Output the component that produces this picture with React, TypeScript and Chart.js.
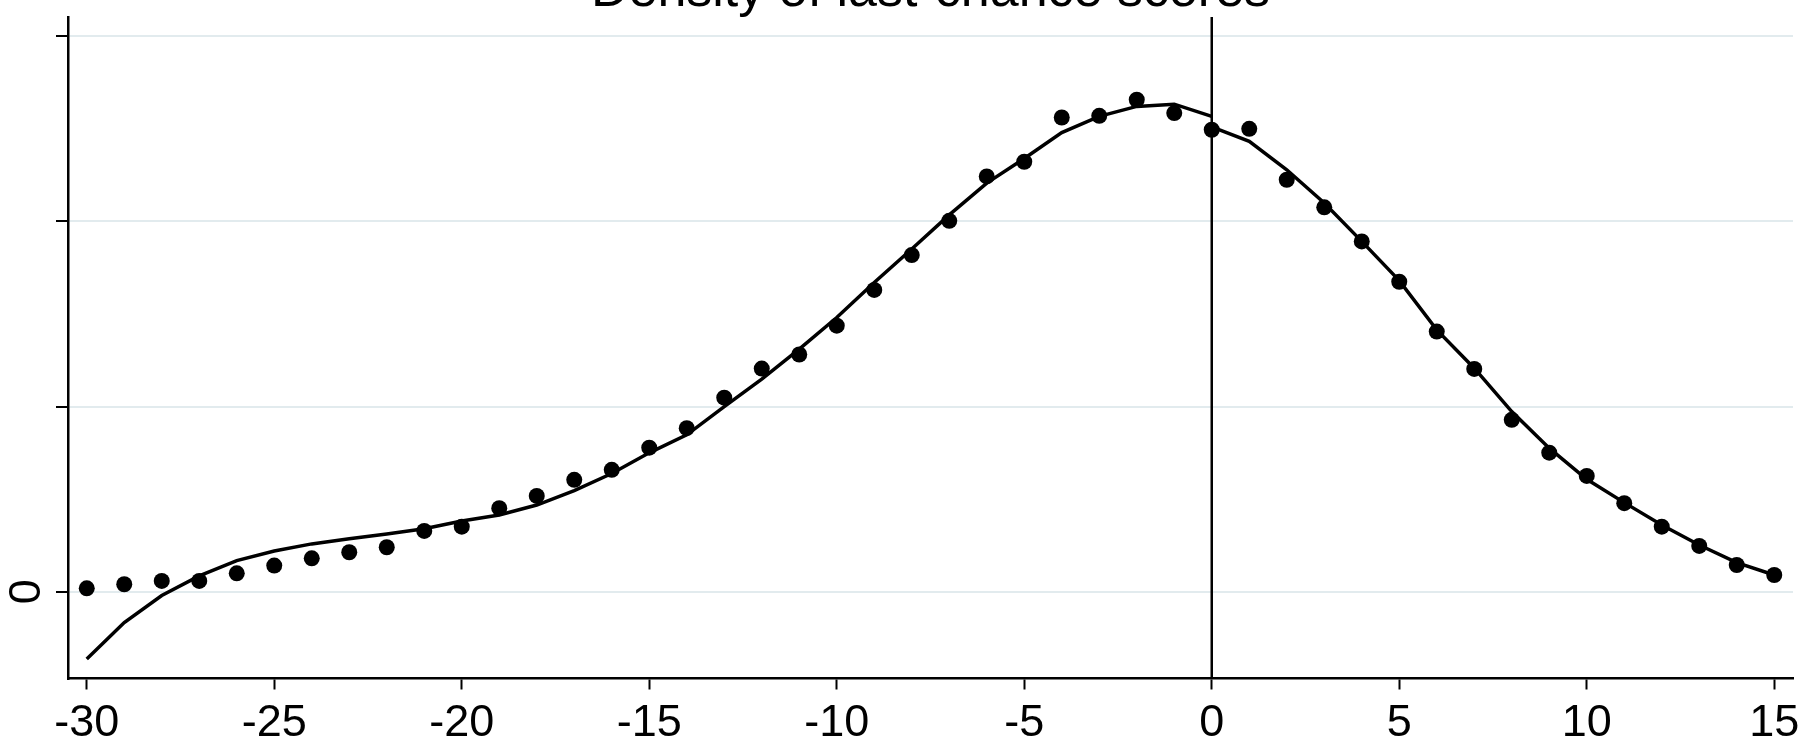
import { useEffect, useRef } from 'react';
import { Chart, registerables } from 'chart.js';

Chart.register(...registerables);

const TITLE = 'Density of last-chance scores';

const SCORE = [
  -30, -29, -28, -27, -26, -25, -24, -23, -22, -21,
  -20, -19, -18, -17, -16, -15, -14, -13, -12, -11,
  -10, -9, -8, -7, -6, -5, -4, -3, -2, -1,
  0, 1, 2, 3, 4, 5, 6, 7, 8, 9,
  10, 11, 12, 13, 14, 15,
];

const DENSITY = [
  0.018, 0.040, 0.058, 0.058, 0.099, 0.141, 0.180, 0.213, 0.240, 0.328,
  0.351, 0.451, 0.517, 0.604, 0.658, 0.778, 0.883, 1.048, 1.205, 1.281,
  1.437, 1.630, 1.818, 2.003, 2.243, 2.322, 2.561, 2.570, 2.657, 2.585,
  2.495, 2.500, 2.225, 2.076, 1.892, 1.674, 1.405, 1.203, 0.928, 0.751,
  0.625, 0.478, 0.351, 0.247, 0.144, 0.090,
];

const FIT_LEFT_X = [
  -30, -29, -28, -27, -26, -25, -24, -23, -22, -21,
  -20, -19, -18, -17, -16, -15, -14, -13, -12, -11,
  -10, -9, -8, -7, -6, -5, -4, -3, -2, -1, 0,
];
const FIT_LEFT = [
  -0.364, -0.167, -0.021, 0.085, 0.168, 0.220, 0.258, 0.286, 0.312, 0.340,
  0.382, 0.414, 0.468, 0.546, 0.638, 0.750, 0.847, 1.000, 1.148, 1.310,
  1.481, 1.670, 1.851, 2.035, 2.207, 2.340, 2.480, 2.567, 2.621, 2.633, 2.567,
];

const FIT_RIGHT_X = [0, 1, 2, 3, 4, 5, 6, 7, 8, 9, 10, 11, 12, 13, 14, 15];
const FIT_RIGHT = [
  2.511, 2.432, 2.279, 2.099, 1.892, 1.680, 1.414, 1.207, 0.973, 0.775,
  0.607, 0.481, 0.360, 0.252, 0.157, 0.090,
];

const CUTOFF = 0;
const X_TICKS = [-30, -25, -20, -15, -10, -5, 0, 5, 10, 15];
const Y_TICKS = [0, 1, 2, 3];
const Y_TICK_LABELS = ['0', '', '', ''];
const X_MIN = -30.5;
const X_MAX = 15.5;
const Y_MIN = -0.469;
const Y_MAX = 3.104;

const FONT = "'Liberation Sans', Arial, sans-serif";

export default function App() {
  const canvasRef = useRef<HTMLCanvasElement | null>(null);

  useEffect(() => {
    document.body.style.margin = '0';
    const canvas = canvasRef.current;
    if (!canvas) return;

    const zip = (xs: number[], ys: number[]) => xs.map((x, i) => ({ x, y: ys[i] }));

    const chart = new Chart(canvas, {
      type: 'line',
      data: {
        datasets: [
          {
            type: 'scatter',
            data: zip(SCORE, DENSITY),
            pointRadius: 8,
            pointBackgroundColor: '#000',
            pointBorderWidth: 0,
            showLine: false,
          } as any,
          {
            data: zip(FIT_LEFT_X, FIT_LEFT),
            borderColor: '#000',
            borderWidth: 3.5,
            pointRadius: 0,
            tension: 0,
          },
          {
            data: zip(FIT_RIGHT_X, FIT_RIGHT),
            borderColor: '#000',
            borderWidth: 3.5,
            pointRadius: 0,
            tension: 0,
          },
          {
            data: [
              { x: CUTOFF, y: Y_MIN },
              { x: CUTOFF, y: Y_MAX },
            ],
            borderColor: '#000',
            borderWidth: 2.5,
            pointRadius: 0,
          },
        ],
      },
      options: {
        animation: false,
        responsive: true,
        maintainAspectRatio: false,
        layout: { padding: { left: 0, right: 13, top: 0, bottom: 0 } },
        plugins: {
          legend: { display: false },
          tooltip: { enabled: false },
          title: {
            display: true,
            text: TITLE,
            fullSize: false,
            align: 'center',
            color: '#000',
            font: { family: FONT, size: 52, weight: 'normal', lineHeight: 1.2 },
            padding: { top: -40, bottom: -5.4 },
          },
        },
        scales: {
          x: {
            type: 'linear',
            min: X_MIN,
            max: X_MAX,
            afterBuildTicks: (axis: any) => {
              axis.ticks = X_TICKS.map((v) => ({ value: v }));
            },
            afterFit: (scale: any) => {
              scale.height = 63.5;
              scale.paddingLeft = 0;
              scale.paddingRight = 0;
              scale.paddingTop = 0;
              scale.paddingBottom = 0;
            },
            border: { display: true, color: '#000', width: 2.5 },
            grid: {
              drawOnChartArea: false,
              drawTicks: true,
              tickLength: 11,
              tickColor: '#000',
              tickWidth: 2,
            },
            ticks: {
              autoSkip: false,
              maxRotation: 0,
              minRotation: 0,
              padding: 7,
              color: '#000',
              font: { family: FONT, size: 45, lineHeight: 1.2 },
              callback: (v: any) => String(v),
            },
          },
          y: {
            type: 'linear',
            min: Y_MIN,
            max: Y_MAX,
            afterBuildTicks: (axis: any) => {
              axis.ticks = Y_TICKS.map((v) => ({ value: v }));
            },
            afterFit: (scale: any) => {
              scale.width = 68;
              scale.paddingLeft = 0;
              scale.paddingRight = 0;
              scale.paddingTop = 0;
              scale.paddingBottom = 0;
            },
            border: { display: true, color: '#000', width: 2.5 },
            grid: {
              drawOnChartArea: true,
              color: '#e2ebee',
              lineWidth: 2,
              drawTicks: true,
              tickLength: 12,
              tickColor: '#000',
              tickWidth: 2,
            },
            ticks: {
              autoSkip: false,
              minRotation: 90,
              maxRotation: 90,
              crossAlign: 'center',
              padding: 16,
              color: '#000',
              font: { family: FONT, size: 45, lineHeight: 1.2 },
              callback: (_v: any, i: number) => Y_TICK_LABELS[i] ?? '',
            },
          },
        },
      } as any,
    });

    return () => chart.destroy();
  }, []);

  return (
    <div style={{ width: '1806px', height: '742px', position: 'relative' }}>
      <canvas ref={canvasRef} />
    </div>
  );
}
